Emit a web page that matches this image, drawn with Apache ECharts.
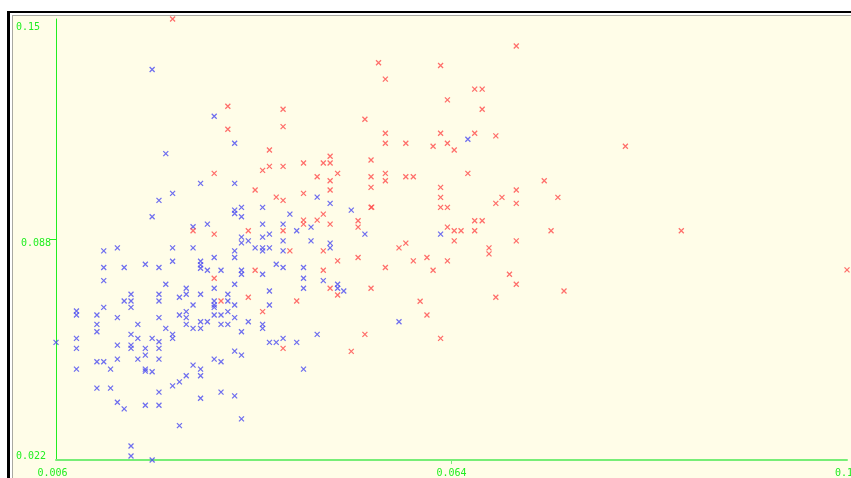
<!DOCTYPE html>
<html>
<head>
<meta charset="utf-8">
<script src="https://cdn.jsdelivr.net/npm/echarts@6/dist/echarts.min.js"></script>
<style>
  html, body { margin: 0; padding: 0; background: #ffffff; }
  #chart { width: 851px; height: 478px; }
</style>
</head>
<body>
<div id="chart"></div>
<script>
// Axis extents and the labels printed at their ends / midpoints
const xTickValues = [0.006, 0.064, 0.122];
const xTickLabels = ['0.006', '0.064', '0.12'];
const yTickValues = [0.022, 0.088, 0.154];
const yTickLabels = ['0.022', '0.088', '0.15'];

// Group drawn in red: [x, y]
const redPoints = [
  [0.0231,0.1540],[0.0312,0.1279],[0.0393,0.1270],[0.0312,0.1210],[0.0393,0.1218],
  [0.0373,0.1148],[0.0373,0.1099],[0.0393,0.1099],[0.0363,0.1087],[0.0423,0.1109],
  [0.0292,0.1078],[0.0443,0.1068],[0.0352,0.1028],[0.0383,0.1007],[0.0393,0.0997],
  [0.0423,0.1018],[0.0423,0.0938],[0.0423,0.0926],[0.0443,0.0938],[0.0261,0.0906],
  [0.0342,0.0906],[0.0393,0.0906],[0.0292,0.0896],[0.0403,0.0846],[0.0352,0.0788],
  [0.0292,0.0764],[0.0342,0.0707],[0.0302,0.0696],[0.0413,0.0696],[0.0363,0.0664],
  [0.0393,0.0554],
  [0.0735,0.1459],[0.0533,0.1409],[0.0624,0.1401],[0.0543,0.1360],[0.0674,0.1330],
  [0.0685,0.1330],[0.0634,0.1298],[0.0685,0.1270],[0.0513,0.1240],[0.0543,0.1198],
  [0.0624,0.1198],[0.0674,0.1198],[0.0705,0.1190],[0.0543,0.1168],[0.0573,0.1168],
  [0.0613,0.1159],[0.0634,0.1168],[0.0644,0.1148],[0.0462,0.1129],[0.0452,0.1109],
  [0.0462,0.1109],[0.0522,0.1118],[0.0473,0.1078],[0.0664,0.1078],[0.0462,0.1056],
  [0.0522,0.1068],[0.0543,0.1078],[0.0543,0.1056],[0.0573,0.1068],[0.0584,0.1068],
  [0.0776,0.1056],[0.0462,0.1028],[0.0522,0.1036],[0.0624,0.1036],[0.0735,0.1028],
  [0.0624,0.1006],[0.0714,0.1006],[0.0796,0.1006],[0.0705,0.0988],[0.0735,0.0988],
  [0.0452,0.0956],[0.0522,0.0976],[0.0523,0.0977],[0.0624,0.0976],[0.0634,0.0976],
  [0.0462,0.0926],[0.0503,0.0936],[0.0503,0.0917],[0.0634,0.0917],[0.0644,0.0906],
  [0.0654,0.0906],[0.0674,0.0936],[0.0685,0.0936],[0.0674,0.0906],[0.0786,0.0906],
  [0.0573,0.0869],[0.0644,0.0876],[0.0735,0.0876],
  [0.0452,0.0846],[0.0563,0.0855],[0.0695,0.0855],[0.0695,0.0837],[0.0473,0.0816],
  [0.0503,0.0826],[0.0584,0.0816],[0.0604,0.0826],[0.0634,0.0816],[0.0543,0.0796],
  [0.0452,0.0788],[0.0613,0.0788],[0.0725,0.0776],[0.0462,0.0734],[0.0473,0.0714],
  [0.0522,0.0734],[0.0735,0.0746],[0.0805,0.0726],[0.0705,0.0707],[0.0594,0.0695],
  [0.0604,0.0654],[0.0513,0.0596],[0.0624,0.0584],[0.0493,0.0545],
  [0.0895,0.1159],[0.0977,0.0906],[0.1220,0.0789]
];

// Group drawn in blue: [x, y]
const bluePoints = [
  [0.0201,0.1389],[0.0292,0.1249],[0.0322,0.1168],[0.0221,0.1137],[0.0272,0.1048],
  [0.0322,0.1048],[0.0231,0.1018],[0.0443,0.1007],[0.0211,0.0997],[0.0201,0.0948],
  [0.0322,0.0968],[0.0322,0.0958],[0.0332,0.0976],[0.0332,0.0948],[0.0363,0.0976],
  [0.0403,0.0956],[0.0434,0.0917],[0.0261,0.0918],[0.0282,0.0926],[0.0363,0.0926],
  [0.0393,0.0926],[0.0413,0.0906],[0.0332,0.0887],[0.0332,0.0870],[0.0342,0.0876],
  [0.0363,0.0887],[0.0373,0.0896],[0.0393,0.0876],[0.0434,0.0876],
  [0.0130,0.0846],[0.0150,0.0855],[0.0231,0.0855],[0.0261,0.0855],[0.0322,0.0846],
  [0.0352,0.0855],[0.0363,0.0855],[0.0363,0.0846],[0.0373,0.0855],[0.0393,0.0846],
  [0.0322,0.0826],[0.0292,0.0826],[0.0231,0.0815],[0.0272,0.0815],[0.0272,0.0804],
  [0.0272,0.0794],[0.0282,0.0788],[0.0302,0.0788],[0.0191,0.0806],[0.0130,0.0796],
  [0.0160,0.0796],[0.0211,0.0796],[0.0332,0.0788],[0.0332,0.0776],[0.0363,0.0776],
  [0.0383,0.0806],[0.0393,0.0796],[0.0423,0.0796],[0.0423,0.0764],[0.0423,0.0734],
  [0.0130,0.0757],[0.0221,0.0746],[0.0251,0.0734],[0.0292,0.0734],[0.0322,0.0746],
  [0.0373,0.0726],[0.0170,0.0716],[0.0211,0.0716],[0.0241,0.0707],[0.0251,0.0716],
  [0.0272,0.0716],[0.0312,0.0716],[0.0160,0.0696],[0.0170,0.0696],[0.0211,0.0696],
  [0.0292,0.0696],[0.0312,0.0696],[0.0130,0.0677],[0.0170,0.0677],[0.0261,0.0684],
  [0.0292,0.0684],[0.0292,0.0677],[0.0322,0.0684],[0.0373,0.0684],[0.0090,0.0666],
  [0.0090,0.0654],[0.0120,0.0654],[0.0150,0.0646],[0.0211,0.0646],[0.0241,0.0654],
  [0.0251,0.0664],[0.0251,0.0646],[0.0292,0.0654],[0.0302,0.0654],[0.0312,0.0664],
  [0.0322,0.0646],[0.0120,0.0626],[0.0180,0.0626],[0.0251,0.0626],[0.0272,0.0634],
  [0.0282,0.0634],[0.0302,0.0626],[0.0312,0.0626],[0.0342,0.0634],[0.0363,0.0626],
  [0.0363,0.0614],[0.0120,0.0604],[0.0221,0.0614],[0.0261,0.0614],[0.0272,0.0614],
  [0.0332,0.0604],[0.0170,0.0596],[0.0231,0.0596],[0.0231,0.0584],[0.0090,0.0584],
  [0.0150,0.0564],[0.0180,0.0584],[0.0201,0.0584],[0.0211,0.0574],[0.0170,0.0564],
  [0.0170,0.0554],[0.0191,0.0554],[0.0211,0.0554],[0.0090,0.0554],[0.0060,0.0572],
  [0.0373,0.0572],[0.0383,0.0572],[0.0393,0.0584],[0.0413,0.0572],[0.0443,0.0596],
  [0.0191,0.0534],[0.0322,0.0546],[0.0332,0.0534],[0.0120,0.0514],[0.0130,0.0514],
  [0.0150,0.0522],[0.0180,0.0522],[0.0211,0.0522],[0.0292,0.0522],[0.0302,0.0514],
  [0.0090,0.0492],[0.0140,0.0492],[0.0191,0.0492],[0.0191,0.0486],[0.0201,0.0484],
  [0.0261,0.0504],[0.0272,0.0492],[0.0272,0.0472],[0.0251,0.0472],[0.0241,0.0454],
  [0.0231,0.0442],[0.0423,0.0492],[0.0120,0.0435],[0.0140,0.0435],[0.0211,0.0423],
  [0.0302,0.0423],[0.0322,0.0412],[0.0272,0.0405],[0.0150,0.0393],[0.0160,0.0373],
  [0.0191,0.0384],[0.0211,0.0384],[0.0332,0.0343],[0.0241,0.0323],[0.0170,0.0262],
  [0.0170,0.0232],[0.0201,0.0220],
  [0.0664,0.1180],[0.0462,0.0988],[0.0493,0.0968],[0.0513,0.0896],[0.0624,0.0896],
  [0.0462,0.0869],[0.0462,0.0855],[0.0452,0.0757],[0.0473,0.0746],[0.0473,0.0734],
  [0.0482,0.0726],[0.0563,0.0634]
];

const GREEN = '#22ee22';
const AXIS_X_GREEN = '#77ee77';
const FONT = 'DejaVu Sans Mono';
const CROSS = 'path://M0,0L10,10M10,0L0,10';

function tickIndex(list, v) {
  let best = 0;
  for (let i = 1; i < list.length; i++) {
    if (Math.abs(list[i] - v) < Math.abs(list[best] - v)) best = i;
  }
  return best;
}

const labelFont = { fontFamily: FONT, fontSize: 10, lineHeight: 10, color: GREEN };

const chart = echarts.init(document.getElementById('chart'), null, { renderer: 'canvas' });

chart.setOption({
  animation: false,
  backgroundColor: '#ffffff',
  graphic: {
    elements: [
      // panel fill and its double frame
      { type: 'rect', z: -10, silent: true, shape: { x: 13, y: 16, width: 900, height: 500 }, style: { fill: '#fffde8' } },
      { type: 'rect', z: -9, silent: true, shape: { x: 12, y: 15, width: 900, height: 1 }, style: { fill: '#a9a9a2' } },
      { type: 'rect', z: -9, silent: true, shape: { x: 12, y: 15, width: 1, height: 500 }, style: { fill: '#a9a9a2' } },
      { type: 'rect', z: -9, silent: true, shape: { x: 7, y: 11, width: 900, height: 2 }, style: { fill: '#000000' } },
      { type: 'rect', z: -9, silent: true, shape: { x: 7, y: 11, width: 3, height: 500 }, style: { fill: '#000000' } }
    ]
  },
  grid: { left: 56, top: 19, width: 791, height: 441, containLabel: false, outerBoundsMode: 'none' },
  xAxis: {
    type: 'value',
    min: xTickValues[0],
    max: xTickValues[xTickValues.length - 1],
    splitLine: { show: false },
    axisLine: { show: true, lineStyle: { color: AXIS_X_GREEN, width: 2 } },
    axisTick: { show: true, customValues: [xTickValues[1]], length: 4, lineStyle: { color: AXIS_X_GREEN, width: 1 } },
    axisLabel: {
      customValues: xTickValues,
      margin: 8,
      ...labelFont,
      formatter: function (v) {
        const i = tickIndex(xTickValues, v);
        return (i === 0 ? '{lo|' : '{n|') + xTickLabels[i] + '}';
      },
      rich: {
        lo: { ...labelFont, padding: [0, 7, 0, 0] },
        n: { ...labelFont }
      }
    }
  },
  yAxis: {
    type: 'value',
    min: yTickValues[0],
    max: yTickValues[yTickValues.length - 1],
    splitLine: { show: false },
    axisLine: { show: true, lineStyle: { color: GREEN, width: 1 } },
    axisTick: { show: true, customValues: [yTickValues[1]], length: 6, lineStyle: { color: GREEN, width: 1 } },
    axisLabel: {
      customValues: yTickValues,
      align: 'left',
      margin: 40,
      ...labelFont,
      formatter: function (v) {
        const i = tickIndex(yTickValues, v);
        return '{' + ['lo', 'mid', 'hi'][i] + '|' + yTickLabels[i] + '}';
      },
      rich: {
        lo: { ...labelFont, padding: [0, 0, 8, 0] },
        mid: { ...labelFont, padding: [7, 0, 0, 5] },
        hi: { ...labelFont, padding: [16, 0, 0, 0] }
      }
    }
  },
  series: [
    {
      type: 'scatter',
      data: bluePoints,
      symbol: CROSS,
      symbolSize: 5,
      itemStyle: { color: 'rgba(0,0,0,0)', borderColor: '#4a4af0', borderWidth: 1.25 }
    },
    {
      type: 'scatter',
      data: redPoints,
      symbol: CROSS,
      symbolSize: 5,
      itemStyle: { color: 'rgba(0,0,0,0)', borderColor: '#ff4a4a', borderWidth: 1.25 }
    }
  ]
});
</script>
</body>
</html>
